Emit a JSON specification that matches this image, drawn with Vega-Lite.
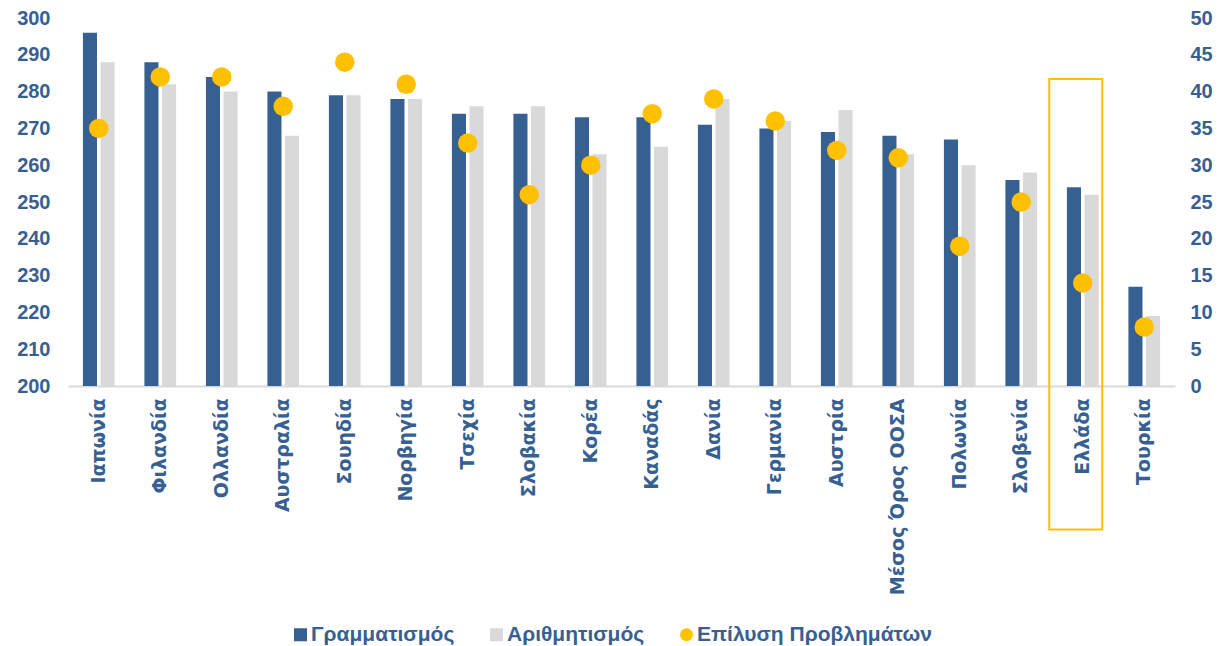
{
  "$schema": "https://vega.github.io/schema/vega-lite/v6.json",
  "autosize": "none",
  "width": 1107,
  "height": 368,
  "padding": {"left": 68, "top": 18, "right": 43, "bottom": 260},
  "background": "white",
  "config": {"view": {"stroke": null}, "font": "Liberation Sans"},
  "data": {"values": [
    {"country": "Ιαπωνία", "series": "Γραμματισμός", "value": 296},
    {"country": "Ιαπωνία", "series": "Αριθμητισμός", "value": 288},
    {"country": "Ιαπωνία", "series": "Επίλυση Προβλημάτων", "value": 35},
    {"country": "Φιλανδία", "series": "Γραμματισμός", "value": 288},
    {"country": "Φιλανδία", "series": "Αριθμητισμός", "value": 282},
    {"country": "Φιλανδία", "series": "Επίλυση Προβλημάτων", "value": 42},
    {"country": "Ολλανδία", "series": "Γραμματισμός", "value": 284},
    {"country": "Ολλανδία", "series": "Αριθμητισμός", "value": 280},
    {"country": "Ολλανδία", "series": "Επίλυση Προβλημάτων", "value": 42},
    {"country": "Αυστραλία", "series": "Γραμματισμός", "value": 280},
    {"country": "Αυστραλία", "series": "Αριθμητισμός", "value": 268},
    {"country": "Αυστραλία", "series": "Επίλυση Προβλημάτων", "value": 38},
    {"country": "Σουηδία", "series": "Γραμματισμός", "value": 279},
    {"country": "Σουηδία", "series": "Αριθμητισμός", "value": 279},
    {"country": "Σουηδία", "series": "Επίλυση Προβλημάτων", "value": 44},
    {"country": "Νορβηγία", "series": "Γραμματισμός", "value": 278},
    {"country": "Νορβηγία", "series": "Αριθμητισμός", "value": 278},
    {"country": "Νορβηγία", "series": "Επίλυση Προβλημάτων", "value": 41},
    {"country": "Τσεχία", "series": "Γραμματισμός", "value": 274},
    {"country": "Τσεχία", "series": "Αριθμητισμός", "value": 276},
    {"country": "Τσεχία", "series": "Επίλυση Προβλημάτων", "value": 33},
    {"country": "Σλοβακία", "series": "Γραμματισμός", "value": 274},
    {"country": "Σλοβακία", "series": "Αριθμητισμός", "value": 276},
    {"country": "Σλοβακία", "series": "Επίλυση Προβλημάτων", "value": 26},
    {"country": "Κορέα", "series": "Γραμματισμός", "value": 273},
    {"country": "Κορέα", "series": "Αριθμητισμός", "value": 263},
    {"country": "Κορέα", "series": "Επίλυση Προβλημάτων", "value": 30},
    {"country": "Καναδάς", "series": "Γραμματισμός", "value": 273},
    {"country": "Καναδάς", "series": "Αριθμητισμός", "value": 265},
    {"country": "Καναδάς", "series": "Επίλυση Προβλημάτων", "value": 37},
    {"country": "Δανία", "series": "Γραμματισμός", "value": 271},
    {"country": "Δανία", "series": "Αριθμητισμός", "value": 278},
    {"country": "Δανία", "series": "Επίλυση Προβλημάτων", "value": 39},
    {"country": "Γερμανία", "series": "Γραμματισμός", "value": 270},
    {"country": "Γερμανία", "series": "Αριθμητισμός", "value": 272},
    {"country": "Γερμανία", "series": "Επίλυση Προβλημάτων", "value": 36},
    {"country": "Αυστρία", "series": "Γραμματισμός", "value": 269},
    {"country": "Αυστρία", "series": "Αριθμητισμός", "value": 275},
    {"country": "Αυστρία", "series": "Επίλυση Προβλημάτων", "value": 32},
    {"country": "Μέσος Όρος ΟΟΣΑ", "series": "Γραμματισμός", "value": 268},
    {"country": "Μέσος Όρος ΟΟΣΑ", "series": "Αριθμητισμός", "value": 263},
    {"country": "Μέσος Όρος ΟΟΣΑ", "series": "Επίλυση Προβλημάτων", "value": 31},
    {"country": "Πολωνία", "series": "Γραμματισμός", "value": 267},
    {"country": "Πολωνία", "series": "Αριθμητισμός", "value": 260},
    {"country": "Πολωνία", "series": "Επίλυση Προβλημάτων", "value": 19},
    {"country": "Σλοβενία", "series": "Γραμματισμός", "value": 256},
    {"country": "Σλοβενία", "series": "Αριθμητισμός", "value": 258},
    {"country": "Σλοβενία", "series": "Επίλυση Προβλημάτων", "value": 25},
    {"country": "Ελλάδα", "series": "Γραμματισμός", "value": 254},
    {"country": "Ελλάδα", "series": "Αριθμητισμός", "value": 252},
    {"country": "Ελλάδα", "series": "Επίλυση Προβλημάτων", "value": 14},
    {"country": "Τουρκία", "series": "Γραμματισμός", "value": 227},
    {"country": "Τουρκία", "series": "Αριθμητισμός", "value": 219},
    {"country": "Τουρκία", "series": "Επίλυση Προβλημάτων", "value": 8}
  ]},
  "encoding": {
    "x": {
      "field": "country", "type": "nominal", "sort": null,
      "scale": {"paddingInner": 0.485, "paddingOuter": 0.2425},
      "axis": {
        "title": null, "labelAngle": -90, "labelFont": "DejaVu Sans", "labelFontWeight": "bold",
        "labelFontSize": 19, "labelColor": "#376092", "labelPadding": 12, "labelLimit": 0,
        "ticks": false, "domainColor": "#D9D9D9", "domainWidth": 2
      }
    }
  },
  "layer": [
    {
      "encoding": {
        "y": {
          "field": "value", "type": "quantitative",
          "scale": {"domain": [200, 300], "nice": false, "zero": false},
          "axis": {
            "title": null, "values": [200, 210, 220, 230, 240, 250, 260, 270, 280, 290, 300],
            "grid": false, "domain": false, "ticks": false, "labelPadding": 18, "labelOverlap": false,
            "labelFontSize": 20, "labelFontWeight": "bold", "labelColor": "#376092", "labelFont": "Liberation Sans"
          }
        }
      },
      "layer": [
        {
          "transform": [{"filter": "datum.series !== 'Επίλυση Προβλημάτων'"}],
          "mark": {"type": "bar"},
          "encoding": {
            "xOffset": {"field": "series", "type": "nominal", "sort": ["Γραμματισμός", "Αριθμητισμός"], "scale": {"paddingInner": 0.2, "paddingOuter": 0}},
            "y2": {"datum": 200},
            "color": {
              "field": "series", "type": "nominal",
              "scale": {"domain": ["Γραμματισμός", "Αριθμητισμός", "Επίλυση Προβλημάτων"], "range": ["#376092", "#D9D9D9", "#FFC000"]},
              "legend": {
                "title": null, "orient": "none", "direction": "horizontal", "legendX": 222, "legendY": 606,
                "labelFontSize": 21, "labelFontWeight": "bold", "labelColor": "#376092", "labelFont": "Liberation Sans",
                "labelLimit": 0, "symbolSize": 169, "columnPadding": 31, "labelOffset": 0,
                "encode": {"symbols": {"update": {"shape": {"signal": "datum.label === 'Επίλυση Προβλημάτων' ? 'circle' : 'square'"}, "strokeWidth": {"value": 0}}}}
              }
            }
          }
        },
        {
          "data": {"values": [{"country": "Ελλάδα", "value": 283.4, "bottom": 161}]},
          "mark": {"type": "bar", "width": 53, "xOffset": -7, "fill": null, "fillOpacity": 0, "stroke": "#FFC000", "strokeWidth": 2},
          "encoding": {
            "y2": {"field": "bottom"}
          }
        }
      ]
    },
    {
      "transform": [{"filter": "datum.series === 'Επίλυση Προβλημάτων'"}],
      "mark": {"type": "circle", "size": 380, "opacity": 1},
      "encoding": {
        "y": {
          "field": "value", "type": "quantitative",
          "scale": {"domain": [0, 50], "nice": false},
          "axis": {
            "title": null, "orient": "right", "values": [0, 5, 10, 15, 20, 25, 30, 35, 40, 45, 50],
            "grid": false, "domain": false, "ticks": false, "labelPadding": 15, "labelOverlap": false,
            "labelFontSize": 20, "labelFontWeight": "bold", "labelColor": "#376092", "labelFont": "Liberation Sans"
          }
        },
        "color": {"field": "series", "type": "nominal"}
      }
    }
  ],
  "resolve": {"scale": {"y": "independent"}}
}
